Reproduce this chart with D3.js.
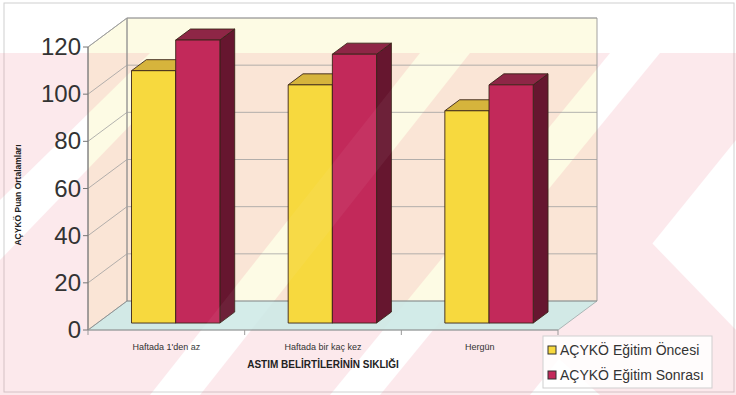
<!DOCTYPE html>
<html>
<head>
<meta charset="utf-8">
<title>AÇYKÖ Puan Ortalamaları</title>
<script src="https://d3js.org/d3.v7.min.js"></script>
<style>
  body { margin: 0; background: #fff; font-family: 'Liberation Sans', Arial, sans-serif; }
</style>
</head>
<body>
<div id="my_dataviz"></div>
<script>
  // data
  var categories = ["Haftada 1'den az", "Haftada bir kaç kez", "Hergün"];
  var seriesNames = ["AÇYKÖ Eğitim Öncesi", "AÇYKÖ Eğitim Sonrası"];
  var oncesi = [107, 101, 90];
  var sonrasi = [120, 114, 101];
  var yTicks = [0, 20, 40, 60, 80, 100, 120];

  var width = 736, height = 395;
  // depth offset of the 3d box
  var depthX = 39, depthY = -29;

  var svg = d3.select("#my_dataviz")
    .append("svg")
    .attr("width", width)
    .attr("height", height);

  var x = d3.scaleBand()
    .domain(categories)
    .range([88, 558]);
  var y = d3.scaleLinear()
    .domain([0, 120])
    .range([330, 47]);

  // project a point on the front plane back by depth d (0..1)
  function P(px, py, d) {
    return [px + depthX * d, py + depthY * d];
  }
  function poly(pts) {
    return "M" + pts.map(function (p) { return p[0] + "," + p[1]; }).join("L") + "Z";
  }

  // outer frame
  svg.append("rect")
    .attr("x", 4).attr("y", 3).attr("width", 730).attr("height", 389)
    .attr("fill", "#fff").attr("stroke", "#d0d0d0");

  var x0 = x.range()[0], x1 = x.range()[1];
  var yTop = y(120), yBot = y(0);

  // walls
  svg.append("path")
    .attr("d", poly([P(x0, yTop, 1), P(x1, yTop, 1), P(x1, yBot, 1), P(x0, yBot, 1)]))
    .attr("fill", "#fdfbe4");
  svg.append("path")
    .attr("d", poly([P(x0, yTop, 0), P(x0, yTop, 1), P(x0, yBot, 1), P(x0, yBot, 0)]))
    .attr("fill", "#fdfbe4");

  // watermark of the scanned page (under the bars)
  var wm = svg.append("g").attr("opacity", 0.16).attr("fill", "#f07a90").style("pointer-events", "none");
  wm.append("path").attr("d", "M0,53 L150,53 L0,200 Z");
  wm.append("path").attr("d", "M200,53 L420,53 L150,395 L0,395 L0,260 Z");
  wm.append("path").attr("d", "M470,53 L610,53 L330,395 L200,395 Z");
  wm.append("path").attr("d", "M660,53 L736,53 L736,140 L530,395 L380,395 Z");
  wm.append("path").attr("d", "M620,210 L736,330 L736,395 L600,395 L560,360 Z");

  // floor
  svg.append("path")
    .attr("d", poly([P(x0, yBot, 0), P(x1, yBot, 0), P(x1, yBot, 1), P(x0, yBot, 1)]))
    .attr("fill", "#cde9e6").attr("fill-opacity", 0.9).attr("stroke", "#9aa8a8").attr("stroke-width", 0.8);

  // wall edges
  svg.append("path")
    .attr("d", poly([P(x0, yTop, 1), P(x1, yTop, 1), P(x1, yBot, 1), P(x0, yBot, 1)]))
    .attr("fill", "none").attr("stroke", "#8a8a8a").attr("stroke-width", 0.8);
  svg.append("path")
    .attr("d", poly([P(x0, yTop, 0), P(x0, yTop, 1), P(x0, yBot, 1), P(x0, yBot, 0)]))
    .attr("fill", "none").attr("stroke", "#8a8a8a").attr("stroke-width", 0.8);

  // gridlines
  yTicks.slice(1).forEach(function (t) {
    var a = P(x0, y(t), 0), b = P(x0, y(t), 1), c = P(x1, y(t), 1);
    svg.append("path")
      .attr("d", "M" + a + "L" + b + "L" + c)
      .attr("fill", "none").attr("stroke", "#a0a0a0").attr("stroke-width", 0.8);
  });

  // y axis
  svg.append("line")
    .attr("x1", x0).attr("x2", x0).attr("y1", yTop).attr("y2", yBot)
    .attr("stroke", "#777");
  svg.selectAll(".ytick")
    .data(yTicks).enter()
    .append("line")
    .attr("x1", x0 - 5).attr("x2", x0)
    .attr("y1", function (d) { return y(d); }).attr("y2", function (d) { return y(d); })
    .attr("stroke", "#777");
  svg.selectAll(".ylab")
    .data(yTicks).enter()
    .append("text")
    .attr("x", 81)
    .attr("y", function (d) { return y(d) + 8; })
    .attr("text-anchor", "end")
    .attr("font-size", 24)
    .attr("fill", "#333")
    .text(function (d) { return d; });

  // x axis
  svg.append("line")
    .attr("x1", x0).attr("x2", x1).attr("y1", yBot).attr("y2", yBot)
    .attr("stroke", "#999");
  svg.selectAll(".xtick")
    .data(categories.concat(["end"])).enter()
    .append("line")
    .attr("x1", function (d, i) { return x0 + i * x.step(); })
    .attr("x2", function (d, i) { return x0 + i * x.step(); })
    .attr("y1", yBot).attr("y2", yBot + 5)
    .attr("stroke", "#999");
  svg.selectAll(".xlab")
    .data(categories).enter()
    .append("text")
    .attr("x", function (d) { return x(d) + x.bandwidth() / 2; })
    .attr("y", 350)
    .attr("text-anchor", "middle")
    .attr("font-size", 9)
    .attr("fill", "#333")
    .text(function (d) { return d; });

  // axis titles
  svg.append("text")
    .attr("x", 323).attr("y", 368)
    .attr("text-anchor", "middle")
    .attr("font-size", 10).attr("font-weight", "bold")
    .attr("fill", "#222")
    .text("ASTIM BELİRTİLERİNİN SIKLIĞI");
  svg.append("text")
    .attr("transform", "translate(21,195) rotate(-90)")
    .attr("text-anchor", "middle")
    .attr("font-size", 8.5).attr("font-weight", "bold")
    .attr("fill", "#222")
    .text("AÇYKÖ Puan Ortalamları");

  // bars
  var colors = [
    { front: "#f7d93e", top: "#d6b43c", side: "#a88a22" },
    { front: "#c2295a", top: "#8e2646", side: "#66162f" }
  ];
  var series = [oncesi, sonrasi];
  var barW = x.bandwidth() * 0.282;
  var d0 = 0.24, d1 = 0.62;

  categories.forEach(function (cat, ci) {
    var cx = x(cat) + x.bandwidth() / 2;
    series.forEach(function (vals, si) {
      var left = cx - barW + si * barW, right = left + barW;
      var top = y(vals[ci]), bot = y(0);
      var c = colors[si];
      var g = svg.append("g")
        .attr("stroke", "#3a2418").attr("stroke-width", 0.9).attr("stroke-linejoin", "round");
      g.append("path")
        .attr("d", poly([P(right, top, d0), P(right, top, d1), P(right, bot, d1), P(right, bot, d0)]))
        .attr("fill", c.side);
      g.append("path")
        .attr("d", poly([P(left, top, d0), P(left, top, d1), P(right, top, d1), P(right, top, d0)]))
        .attr("fill", c.top);
      g.append("path")
        .attr("d", poly([P(left, top, d0), P(right, top, d0), P(right, bot, d0), P(left, bot, d0)]))
        .attr("fill", c.front);
    });
  });

  // faint watermark over the bars as well
  svg.append("g").attr("opacity", 0.05).attr("fill", "#ffffff")
    .append("path").attr("d", "M150,395 L420,53 L470,53 L200,395 Z");

  // legend
  var leg = svg.append("g").attr("transform", "translate(543,336)");
  leg.append("rect")
    .attr("width", 169).attr("height", 52)
    .attr("fill", "#fff").attr("fill-opacity", 0.85).attr("stroke", "#cfcfcf");
  seriesNames.forEach(function (name, i) {
    leg.append("rect")
      .attr("x", 5).attr("y", 10 + i * 25).attr("width", 8).attr("height", 8)
      .attr("fill", colors[i].front).attr("stroke", "#333");
    leg.append("text")
      .attr("x", 17).attr("y", 19 + i * 25)
      .attr("font-size", 14).attr("fill", "#333")
      .text(name);
  });
</script>
</body>
</html>
